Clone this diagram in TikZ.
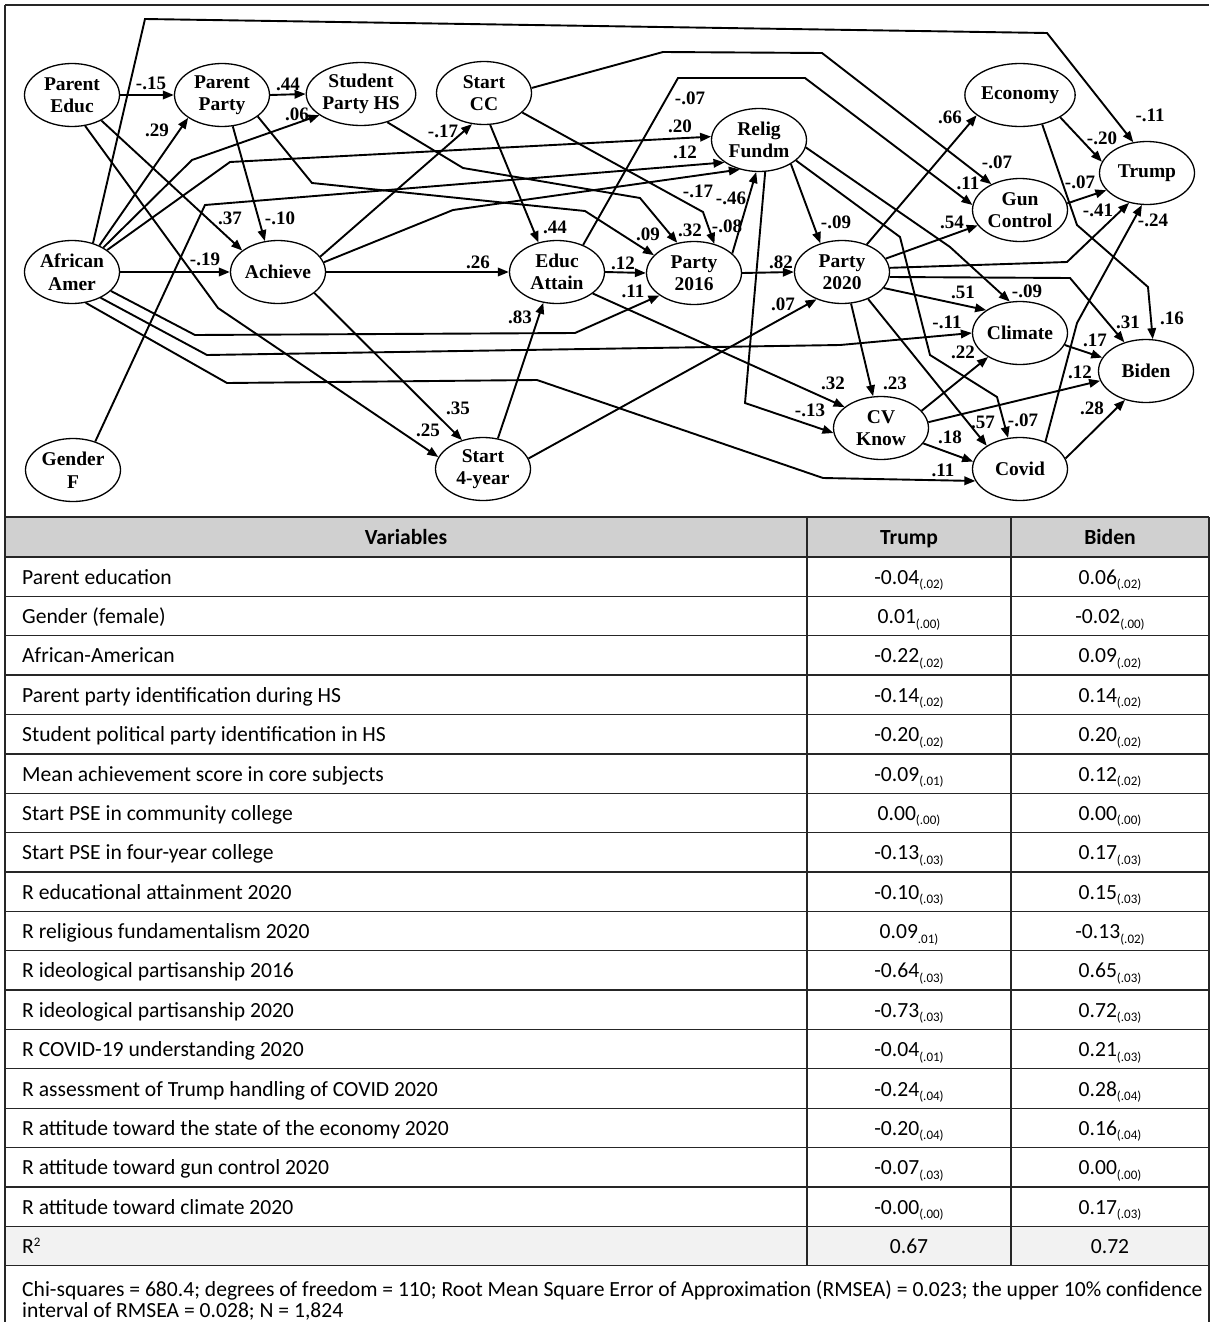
\documentclass[tikz,border=0pt]{standalone}
\usepackage{fontspec}
\setmainfont{Carlito}
\newfontfamily\tnr{Liberation Serif}
\usetikzlibrary{arrows.meta,shapes.geometric}
\definecolor{hdr}{RGB}{208,208,208}
\definecolor{rsq}{RGB}{242,242,242}
\begin{document}
\begin{tikzpicture}[x=1pt,y=-1pt,
  var/.style={draw, line width=1.3pt, ellipse, minimum width=95pt, minimum height=63pt, inner sep=0pt, align=center, font=\tnr\bfseries\fontsize{19.5}{22.5}\selectfont},
  arr/.style={line width=1.9pt, -{Triangle[length=11pt,width=8.5pt]}},
  lbl/.style={font=\tnr\bfseries\fontsize{19}{19}\selectfont, inner sep=0pt},
  cell/.style={font=\fontsize{21.6}{26}\selectfont, inner sep=0pt},
  tab/.style={line width=1.3pt, black!85}
]
\useasboundingbox (0,0) rectangle (1211,1322);
% frame of diagram
\draw[tab] (5,5) -- (1209,5);
\draw[tab] (5,5) -- (5,517);
% nodes
\node[var] (pe) at (72,95) {Parent\\Educ};
\node[var] (pp) at (222,95) {Parent\\Party};
\node[var] (sp) at (361,94) {Student\\Party HS};
\node[var] (cc) at (484,93) {Start\\CC};
\node[var] (rf) at (759,140) {Relig\\Fundm};
\node[var] (ec) at (1020,95) {Economy};
\node[var] (gc) at (1020,210) {Gun\\Control};
\node[var] (tr) at (1147,173) {Trump};
\node[var] (aa) at (72,272) {African\\Amer};
\node[var] (ac) at (278,272) {Achieve};
\node[var] (ea) at (557,272) {Educ\\Attain};
\node[var] (p16) at (694,273) {Party\\2016};
\node[var] (p20) at (842,272) {Party\\2020};
\node[var] (cl) at (1020,333) {Climate};
\node[var] (bi) at (1146,371) {Biden};
\node[var] (cv) at (881,428) {CV\\Know};
\node[var] (co) at (1020,469) {Covid};
\node[var] (s4) at (483,469) {Start\\4-year};
\node[var] (gf) at (73,470) {Gender\\F};
% connectors
\draw[arr] (pe.east) -- (pp.west);
\draw[arr] (pp.east) -- (sp.west);
\draw[arr] (aa.44) -- (pp.214);
\draw[arr] (aa.38) -- (192,160) -- (sp.207);
\draw[arr] (aa.32) -- (230,162) -- (rf.176);
\draw[arr] (gf.52) -- (205,205) -- (rf.213);
\draw[arr] (aa.54) -- (145,19) -- (1047,33) -- (tr.114);
\draw[arr] (aa.east) -- (ac.west);
\draw[arr] (aa.-26) -- (195,335) -- (575,333) -- (p16.213);
\draw[arr] (aa.-42) -- (207,355) -- (840,345) -- (cl.west);
\draw[arr] (aa.-66) -- (227,383) -- (537,380) -- (823,478) -- (co.195);
\draw[arr] (pe.-41) -- (ac.149);
\draw[arr] (pe.-67) -- (218,308) -- (s4.165);
\draw[arr] (pp.-71) -- (ac.113);
\draw[arr] (pp.-31) -- (312,183) -- (585,211) -- (p16.156);
\draw[arr] (sp.-47) -- (463,168) -- (640,198) -- (p16.119);
\draw[arr] (ac.20) -- (cc.249);
\draw[arr] (ac.12) -- (453,210) -- (rf.237);
\draw[arr] (ac.east) -- (ea.west);
\draw[arr] (ac.-30) -- (s4.126);
\draw[arr] (cc.-27) -- (703,212) -- (p16.55);
\draw[arr] (cc.-79) -- (ea.122);
\draw[arr] (cc.6) -- (663,52) -- (822,53) -- (gc.138);
\draw[arr] (ea.46) -- (678,78) -- (805,78) -- (gc.174);
\draw[arr] (ea.east) -- (p16.west);
\draw[arr] (ea.-31) -- (cv.150);
\draw[arr] (s4.64) -- (ea.246);
\draw[arr] (s4.13) -- (p20.227);
\draw[arr] (p16.east) -- (p20.west);
\draw[arr] (p16.27) -- (rf.265);
\draw[arr] (rf.-37) -- (p20.127);
\draw[arr] (rf.-79) -- (745,403) -- (cv.186);
\draw[arr] (rf.-9) -- (950,247) -- (cl.108);
\draw[arr] (rf.-29) -- (900,237) -- (930,355) -- (997,397) -- (co.111);
\draw[arr] (p20.48) -- (ec.205);
\draw[arr] (p20.17) -- (gc.200);
\draw[arr] (p20.5) -- (1067,262) -- (tr.239);
\draw[arr] (p20.-6) -- (1070,278) -- (bi.127);
\draw[arr] (p20.-21) -- (cl.146);
\draw[arr] (p20.-74) -- (cv.104);
\draw[arr] (p20.-46) -- (co.145);
\draw[arr] (cv.23) -- (cl.217);
\draw[arr] (cv.-20) -- (co.171);
\draw[arr] (cv.7) -- (bi.192);
\draw[arr] (cl.-15) -- (bi.163);
\draw[arr] (co.13) -- (bi.234);
\draw[arr] (co.47) -- (1077,323) -- (tr.261);
\draw[arr] (ec.-29) -- (tr.166);
\draw[arr] (gc.8) -- (tr.203);
\draw[arr] (ec.-53) -- (1077,225) -- (1148,287) -- (bi.78);
% labels
\foreach \n/\x/\y/\t in {
 a1/151/83/{-.15}, a2/288/84/{.44}, a3/297/114/{.06}, a4/157/130/{.29},
 a5/230/218/{.37}, a6/280/218/{-.10}, a7/205/259/{-.19}, a8/443/131/{-.17},
 a9/478/262/{.26}, a10/555/227/{.44}, a11/520/317/{.83}, a12/458/408/{.35},
 a13/428/430/{.25}, a14/690/98/{-.07}, a15/680/126/{.20}, a16/685/152/{.12},
 a17/698/191/{-.17}, a18/731/198/{-.46}, a19/648/234/{.09}, a20/690/230/{.32},
 a21/727/226/{-.08}, a22/623/263/{.12}, a23/633/291/{.11}, a24/781/262/{.82},
 a25/783/304/{.07}, a26/836/222/{-.09}, a27/950/117/{.66}, a28/997/162/{-.07},
 a29/968/183/{.11}, a30/952/222/{.54}, a31/1150/115/{-.11}, a32/1102/138/{-.20},
 a33/1080/182/{-.07}, a34/1098/210/{-.41}, a35/1153/220/{-.24}, a36/963/292/{.51},
 a37/1027/291/{-.09}, a38/947/322/{-.11}, a39/963/352/{.22}, a40/1128/322/{.31},
 a41/1172/318/{.16}, a42/1095/340/{.17}, a43/1080/372/{.12}, a44/833/383/{.32},
 a45/895/383/{.23}, a46/810/410/{-.13}, a47/983/422/{.57}, a48/1023/420/{-.07},
 a49/950/437/{.18}, a50/1092/408/{.28}, a51/943/470/{.11}}
 {\node[lbl] (\n) at (\x,\y) {\t};}
% table
\fill[hdr] (5,517) rectangle (1209,557);
\fill[rsq] (5,{557+39.37*17}) rectangle (1209,{557+39.37*18});
\draw[tab] (5,517) -- (1209,517);
\foreach \k in {0,...,18} {\draw[tab] (5,{557+39.37*\k}) -- (1209,{557+39.37*\k});}
\draw[tab] (5,517) -- (5,1322);
\draw[tab] (1209,517) -- (1209,1322);
\draw[tab] (807,517) -- (807,{557+39.37*18});
\draw[tab] (1011,517) -- (1011,{557+39.37*18});
\node[cell, anchor=base, font=\bfseries\fontsize{21.6}{26}\selectfont] (hv) at (406,544) {Variables};
\node[cell, anchor=base, font=\bfseries\fontsize{21.6}{26}\selectfont] (ht) at (909,544) {Trump};
\node[cell, anchor=base, font=\bfseries\fontsize{21.6}{26}\selectfont] (hb) at (1110,544) {Biden};
\foreach \i/\v/\ta/\tb/\ba/\bb in {
 1/{Parent education}/{-0.04}/{(.02)}/{0.06}/{(.02)},
 2/{Gender (female)}/{0.01}/{(.00)}/{-0.02}/{(.00)},
 3/{African-American}/{-0.22}/{(.02)}/{0.09}/{(.02)},
 4/{Parent party identification during HS}/{-0.14}/{(.02)}/{0.14}/{(.02)},
 5/{Student political party identification in HS}/{-0.20}/{(.02)}/{0.20}/{(.02)},
 6/{Mean achievement score in core subjects}/{-0.09}/{(.01)}/{0.12}/{(.02)},
 7/{Start PSE in community college}/{0.00}/{(.00)}/{0.00}/{(.00)},
 8/{Start PSE in four-year college}/{-0.13}/{(.03)}/{0.17}/{(.03)},
 9/{R educational attainment 2020}/{-0.10}/{(.03)}/{0.15}/{(.03)},
 10/{R religious fundamentalism 2020}/{0.09}/{.01)}/{-0.13}/{(.02)},
 11/{R ideological partisanship 2016}/{-0.64}/{(.03)}/{0.65}/{(.03)},
 12/{R ideological partisanship 2020}/{-0.73}/{(.03)}/{0.72}/{(.03)},
 13/{R COVID-19 understanding 2020}/{-0.04}/{(.01)}/{0.21}/{(.03)},
 14/{R assessment of Trump handling of COVID 2020}/{-0.24}/{(.04)}/{0.28}/{(.04)},
 15/{R attitude toward the state of the economy 2020}/{-0.20}/{(.04)}/{0.16}/{(.04)},
 16/{R attitude toward gun control 2020}/{-0.07}/{(.03)}/{0.00}/{(.00)},
 17/{R attitude toward climate 2020}/{-0.00}/{(.00)}/{0.17}/{(.03)}}
{
 \node[cell, anchor=base west] (v\i) at (22,{557+39.37*(\i-0.5)+7.5}) {\v};
 \node[cell, anchor=base] (t\i) at (909,{557+39.37*(\i-0.5)+7.5}) {\ta\raisebox{-4.5pt}{\fontsize{13}{13}\selectfont\tb}};
 \node[cell, anchor=base] (b\i) at (1110,{557+39.37*(\i-0.5)+7.5}) {\ba\raisebox{-4.5pt}{\fontsize{13}{13}\selectfont\bb}};
}
\node[cell, anchor=base west] (vr) at (22,{557+39.37*17.5+7.5}) {R\raisebox{7pt}{\fontsize{13}{13}\selectfont 2}};
\node[cell, anchor=base] (tr2) at (909,{557+39.37*17.5+7.5}) {0.67};
\node[cell, anchor=base] (br2) at (1110,{557+39.37*17.5+7.5}) {0.72};
\node[cell, anchor=base west] (f1) at (22,1296) {Chi-squares = 680.4; degrees of freedom = 110; Root Mean Square Error of Approximation (RMSEA) = 0.023; the upper 10\% confidence};
\node[cell, anchor=base west] (f2) at (22,1317) {interval of RMSEA = 0.028; N = 1,824};
\end{tikzpicture}
\end{document}
